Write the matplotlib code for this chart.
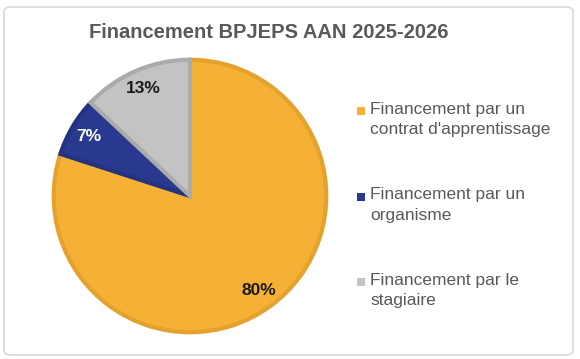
import matplotlib.pyplot as plt
from matplotlib.patches import FancyBboxPatch, Rectangle

plt.rcParams['font.family'] = ['Liberation Sans', 'DejaVu Sans']

# Données
categories = ["Financement par un\ncontrat d'apprentissage",
              "Financement par un\norganisme",
              "Financement par le\nstagiaire"]
valeurs = [80, 7, 13]
couleurs = ['#F4B135', '#2A3990', '#C3C3C3']
bordures = ['#E3A12E', '#24327F', '#ABABAB']
couleurs_pct = ['#1A1A1A', 'white', '#1A1A1A']
titre = 'Financement BPJEPS AAN 2025-2026'

W, H = 580, 359
fig = plt.figure(figsize=(W / 100, H / 100), dpi=100)

# cadre arrondi
cadre = FancyBboxPatch((4 / W, 4 / H), 569 / W, 348 / H,
                       boxstyle='round,pad=0,rounding_size=0.012',
                       transform=fig.transFigure, facecolor='white',
                       edgecolor='#D9D9D9', linewidth=1.2, zorder=-10)
fig.patches.append(cadre)

fig.text(269 / W, 1 - 33 / H, titre, ha='center', va='center',
         fontsize=14.5, fontweight='bold', color='#595959')

# camembert
cx, cy, r = 190, 196, 139
ax = fig.add_axes([(cx - r) / W, (H - cy - r) / H, 2 * r / W, 2 * r / H])
ax.set_zorder(5)
wedges, _, autotexts = ax.pie(valeurs, colors=couleurs, startangle=90,
                              counterclock=False, autopct='%1.0f%%',
                              pctdistance=0.86, radius=1,
                              wedgeprops=dict(linewidth=3))
for w, bc in zip(wedges, bordures):
    w.set_edgecolor(bc)
for t, c in zip(autotexts, couleurs_pct):
    t.set_color(c)
    t.set_fontsize(12.5)
    t.set_fontweight('bold')
ax.set_xlim(-1.02, 1.02)
ax.set_ylim(-1.02, 1.02)
ax.axis('off')

# légende (carré aligné sur la première ligne)
y0, pas = 111, 85.5
for i, (lab, c) in enumerate(zip(categories, couleurs)):
    yc = y0 + i * pas
    fig.patches.append(Rectangle((357 / W, 1 - (yc + 4) / H), 8 / W, 8 / H,
                                 transform=fig.transFigure, facecolor=c,
                                 edgecolor='none'))
    fig.text(370 / W, 1 - (yc - 9) / H, lab, ha='left', va='top',
             fontsize=12.5, color='#595959', linespacing=1.45)

fig.savefig('out.png', dpi=100)
